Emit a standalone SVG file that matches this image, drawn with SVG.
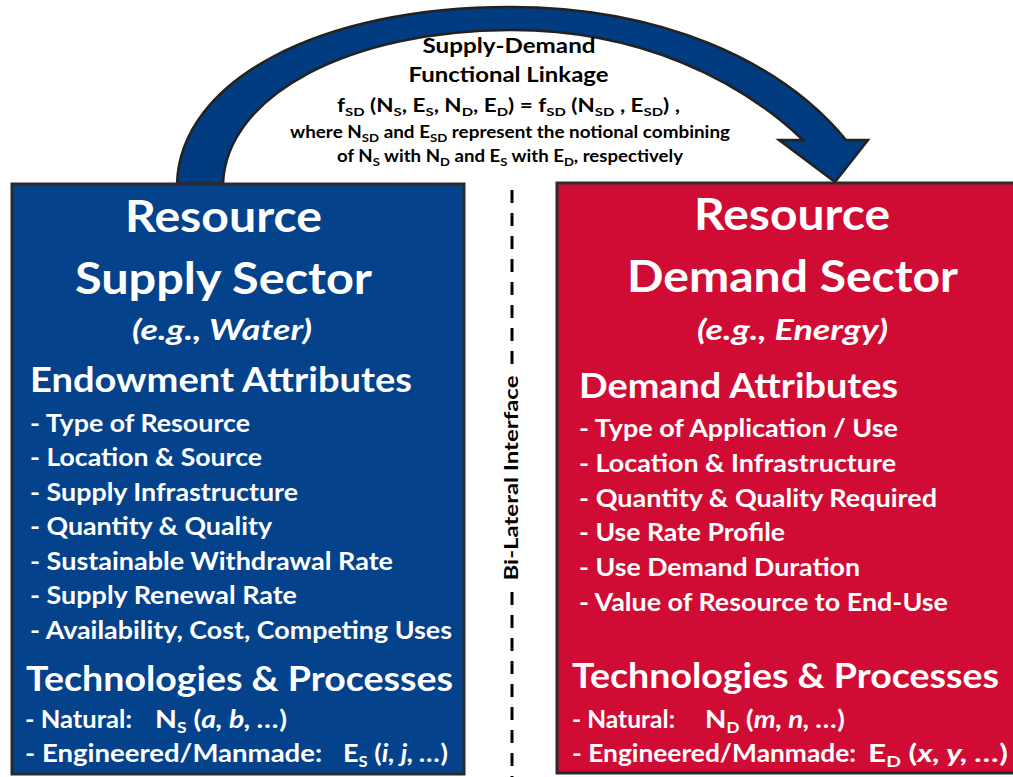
<svg xmlns="http://www.w3.org/2000/svg" width="1013" height="777" viewBox="0 0 1013 777">
<style>
text{font-family:Lato,"Open Sans","Liberation Sans",sans-serif;font-weight:700}
.w{fill:#ffffff}
.k{fill:#000000}
.t1{font-size:44px}
.t2{font-size:28px;font-style:italic}
.t3{font-size:35px}
.li{font-size:24.5px}
.it{font-style:italic}
.box{stroke:#2b2b2b;stroke-width:3}
</style>
<rect width="1013" height="777" fill="#ffffff"/>
<g id="connectors">
<path id="linkage-arrow" d="M177,184 C180,80 320,7 510,7 C660,7 780,60 846,140 L868,140 L835,182 L779,140 L803,140 C740,80 640,30 512,30 C350,30 226,95 223,184 Z" fill="#013c80" stroke="#222222" stroke-width="2.5" stroke-linejoin="miter"/>
<line x1="512" y1="190" x2="512" y2="368" stroke="#000" stroke-width="3" stroke-dasharray="13 10"/>
<line x1="512" y1="592" x2="512" y2="777" stroke="#000" stroke-width="3" stroke-dasharray="13 10"/>
</g>
<g id="linkage-label" class="k">
<text x="509" y="53" font-size="21.5" text-anchor="middle" textLength="173" lengthAdjust="spacingAndGlyphs">Supply-Demand</text>
<text x="508.5" y="82" font-size="21.5" text-anchor="middle" textLength="200" lengthAdjust="spacingAndGlyphs">Functional Linkage</text>
<text x="508.5" y="112" font-size="18" text-anchor="middle" textLength="343" lengthAdjust="spacingAndGlyphs">f<tspan font-size="12" dy="4">SD</tspan><tspan dy="-4"> (N</tspan><tspan font-size="12" dy="4">S</tspan><tspan dy="-4">, E</tspan><tspan font-size="12" dy="4">S</tspan><tspan dy="-4">, N</tspan><tspan font-size="12" dy="4">D</tspan><tspan dy="-4">, E</tspan><tspan font-size="12" dy="4">D</tspan><tspan dy="-4">) = f</tspan><tspan font-size="12" dy="4">SD</tspan><tspan dy="-4"> (N</tspan><tspan font-size="12" dy="4">SD</tspan><tspan dy="-4"> , E</tspan><tspan font-size="12" dy="4">SD</tspan><tspan dy="-4">) ,</tspan></text>
<text x="510" y="138" font-size="16.5" text-anchor="middle" textLength="440" lengthAdjust="spacingAndGlyphs">where N<tspan font-size="11.5" dy="4">SD</tspan><tspan dy="-4"> and E</tspan><tspan font-size="11.5" dy="4">SD</tspan><tspan dy="-4"> represent the notional combining</tspan></text>
<text x="510" y="162" font-size="16.5" text-anchor="middle" textLength="346" lengthAdjust="spacingAndGlyphs">of N<tspan font-size="11.5" dy="4">S</tspan><tspan dy="-4"> with N</tspan><tspan font-size="11.5" dy="4">D</tspan><tspan dy="-4"> and E</tspan><tspan font-size="11.5" dy="4">S</tspan><tspan dy="-4"> with E</tspan><tspan font-size="11.5" dy="4">D</tspan><tspan dy="-4">, respectively</tspan></text>
</g>
<g id="interface-label">
<text class="k" x="512" y="484" font-size="19" text-anchor="middle" textLength="205" lengthAdjust="spacingAndGlyphs" transform="rotate(-90 512 478)">Bi-Lateral Interface</text>
</g>
<g id="supply-sector">
<rect class="box" x="12" y="184" width="452" height="590" fill="#04428c"/>
<g class="w">
<text class="t1" x="223.5" y="232" text-anchor="middle" textLength="197" lengthAdjust="spacingAndGlyphs">Resource</text>
<text class="t1" x="223.5" y="294" text-anchor="middle" textLength="297" lengthAdjust="spacingAndGlyphs">Supply Sector</text>
<text class="t2" x="222" y="340" text-anchor="middle" textLength="180" lengthAdjust="spacingAndGlyphs">(e.g., Water)</text>
<text class="t3" x="30" y="392" textLength="382" lengthAdjust="spacingAndGlyphs">Endowment Attributes</text>
<text class="li" x="30" y="432" textLength="220" lengthAdjust="spacingAndGlyphs">- Type of Resource</text>
<text class="li" x="30" y="466" textLength="232" lengthAdjust="spacingAndGlyphs">- Location &amp; Source</text>
<text class="li" x="30" y="501" textLength="268" lengthAdjust="spacingAndGlyphs">- Supply Infrastructure</text>
<text class="li" x="30" y="535" textLength="242" lengthAdjust="spacingAndGlyphs">- Quantity &amp; Quality</text>
<text class="li" x="30" y="570" textLength="363" lengthAdjust="spacingAndGlyphs">- Sustainable Withdrawal Rate</text>
<text class="li" x="30" y="604" textLength="267" lengthAdjust="spacingAndGlyphs">- Supply Renewal Rate</text>
<text class="li" x="30" y="639" textLength="422" lengthAdjust="spacingAndGlyphs">- Availability, Cost, Competing Uses</text>
<text class="t3" x="26" y="691" textLength="427" lengthAdjust="spacingAndGlyphs">Technologies &amp; Processes</text>
<text class="li" x="25" y="728" textLength="107" lengthAdjust="spacingAndGlyphs">- Natural:</text>
<text class="li" x="155" y="728" textLength="132" lengthAdjust="spacingAndGlyphs">N<tspan font-size="15" dy="5">S</tspan><tspan dy="-5"> (</tspan><tspan class="it">a, b, …</tspan>)</text>
<text class="li" x="25" y="762" textLength="297" lengthAdjust="spacingAndGlyphs">- Engineered/Manmade:</text>
<text class="li" x="343" y="762" textLength="105" lengthAdjust="spacingAndGlyphs">E<tspan font-size="15" dy="5">S</tspan><tspan dy="-5"> (</tspan><tspan class="it">i, j, …</tspan>)</text>
</g>
</g>
<g id="demand-sector">
<rect class="box" x="557" y="183" width="470" height="590" fill="#d10c34"/>
<g class="w">
<text class="t1" x="792" y="230" text-anchor="middle" textLength="196" lengthAdjust="spacingAndGlyphs">Resource</text>
<text class="t1" x="792.5" y="292" text-anchor="middle" textLength="331" lengthAdjust="spacingAndGlyphs">Demand Sector</text>
<text class="t2" x="792.5" y="340" text-anchor="middle" textLength="191" lengthAdjust="spacingAndGlyphs">(e.g., Energy)</text>
<text class="t3" x="579" y="398" textLength="319" lengthAdjust="spacingAndGlyphs">Demand Attributes</text>
<text class="li" x="579" y="437" textLength="319" lengthAdjust="spacingAndGlyphs">- Type of Application / Use</text>
<text class="li" x="579" y="472" textLength="317" lengthAdjust="spacingAndGlyphs">- Location &amp; Infrastructure</text>
<text class="li" x="579" y="507" textLength="358" lengthAdjust="spacingAndGlyphs">- Quantity &amp; Quality Required</text>
<text class="li" x="579" y="541" textLength="206" lengthAdjust="spacingAndGlyphs">- Use Rate Profile</text>
<text class="li" x="579" y="576" textLength="281" lengthAdjust="spacingAndGlyphs">- Use Demand Duration</text>
<text class="li" x="579" y="611" textLength="369" lengthAdjust="spacingAndGlyphs">- Value of Resource to End-Use</text>
<text class="t3" x="572" y="688" textLength="427" lengthAdjust="spacingAndGlyphs">Technologies &amp; Processes</text>
<text class="li" x="572" y="728" textLength="103" lengthAdjust="spacingAndGlyphs">- Natural:</text>
<text class="li" x="705" y="728" textLength="140" lengthAdjust="spacingAndGlyphs">N<tspan font-size="15" dy="5">D</tspan><tspan dy="-5"> (</tspan><tspan class="it">m, n, …</tspan>)</text>
<text class="li" x="572" y="762" textLength="284" lengthAdjust="spacingAndGlyphs">- Engineered/Manmade:</text>
<text class="li" x="868" y="762" textLength="140" lengthAdjust="spacingAndGlyphs">E<tspan font-size="15" dy="5">D</tspan><tspan dy="-5"> (</tspan><tspan class="it">x, y, …</tspan>)</text>
</g>
</g>
</svg>
